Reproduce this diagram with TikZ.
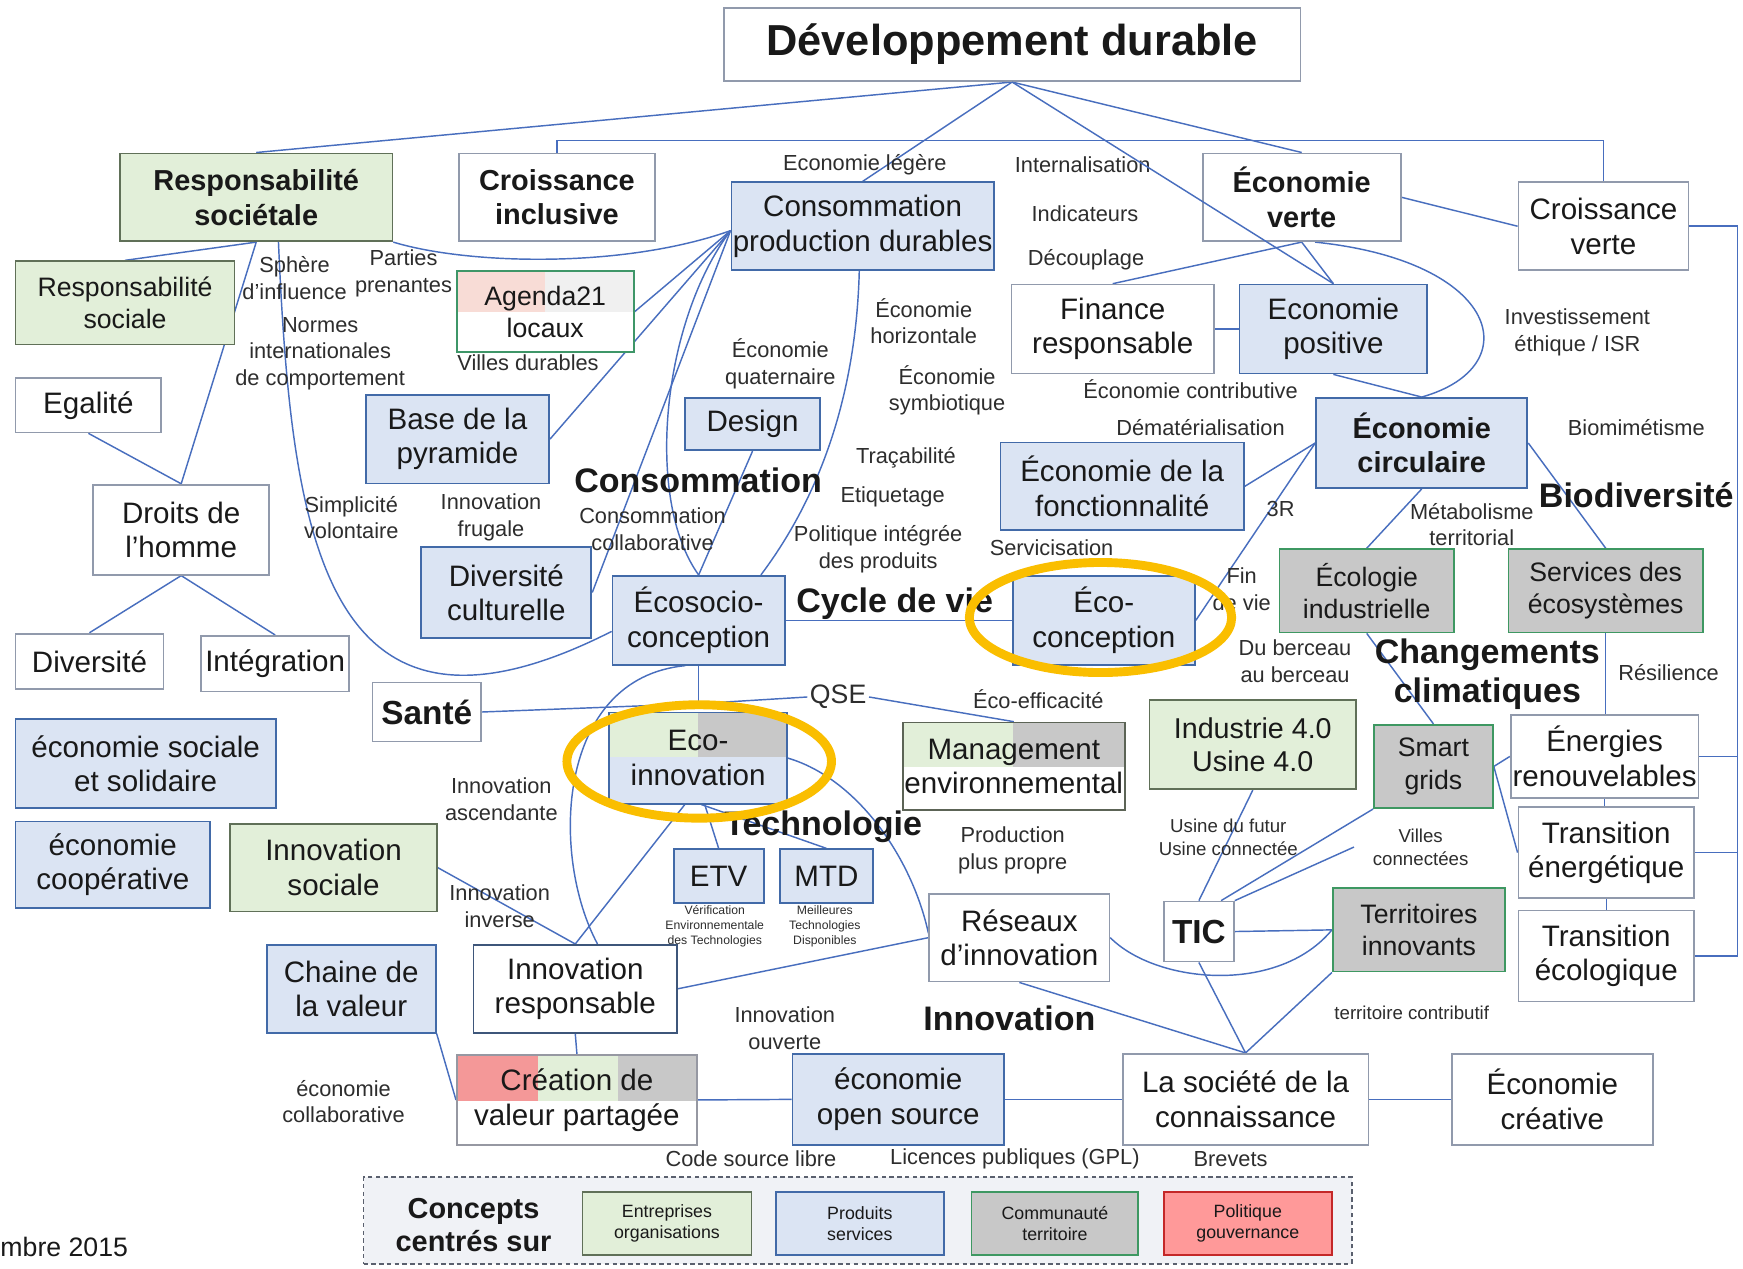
\documentclass[tikz,border=0pt]{standalone}
\usepackage{fontspec}
\setmainfont{Liberation Sans}
\usetikzlibrary{calc}
\pgfdeclarelayer{bg}
\pgfsetlayers{bg,main}

\definecolor{ink}{RGB}{25,25,25}
\definecolor{ink2}{RGB}{45,45,45}
\definecolor{lnk}{RGB}{72,110,190}
\definecolor{bfill}{RGB}{219,228,243}
\definecolor{bline}{RGB}{66,106,168}
\definecolor{gfill}{RGB}{226,239,217}
\definecolor{gline}{RGB}{96,112,88}
\definecolor{cfill}{RGB}{200,200,200}
\definecolor{cline}{RGB}{62,152,98}
\definecolor{wline}{RGB}{145,154,172}
\definecolor{irline}{RGB}{62,86,122}
\definecolor{crline}{RGB}{150,152,162}
\definecolor{mgline}{RGB}{92,100,86}
\definecolor{agline}{RGB}{62,150,104}
\definecolor{pinkbg}{RGB}{248,220,214}
\definecolor{paleg}{RGB}{240,240,240}
\definecolor{rfill}{RGB}{244,152,152}
\definecolor{pfill}{RGB}{255,153,153}
\definecolor{pline}{RGB}{196,40,40}
\definecolor{legbg}{RGB}{240,242,246}
\definecolor{legline}{RGB}{90,96,110}
\definecolor{gold}{RGB}{250,190,0}

% box from its corners: style, name, x1, y1, x2, y2, text
\newcommand\mkbox[7]{%
  \node[#1, minimum width={(#5-#3)*0.5pt}, minimum height={(#6-#4)*0.5pt}]
    (#2) at ({(#3+#5)/2},{(#4+#6)/2}) {#7};}

\tikzset{
  bx/.style={draw, line width=0.8pt, inner sep=0pt, align=center, text=ink,
             font=\fontsize{13.3}{15.5}\selectfont},
  wht/.style={bx, draw=wline, fill=white},
  blu/.style={bx, draw=bline, fill=bfill},
  grn/.style={bx, draw=gline, fill=gfill},
  gry/.style={bx, draw=cline, fill=cfill, font=\fontsize{12}{14.5}\selectfont},
  pol/.style={bx, draw=pline, fill=pfill},
  spl/.style={bx, fill=none},
  sml/.style={font=\fontsize{12}{14.5}\selectfont},
  smd/.style={font=\fontsize{12.9}{15}\selectfont},
  bft/.style={font=\bfseries\fontsize{13}{15.5}\selectfont},
  bfs/.style={font=\bfseries\fontsize{15}{17}\selectfont},
  ttl/.style={font=\bfseries\fontsize{19.5}{22}\selectfont},
  lgt/.style={font=\fontsize{8}{9.5}\selectfont},
  lgd/.style={draw=legline, line width=0.8pt, dash pattern=on 2pt off 1.5pt, fill=legbg},
  lbl/.style={inner sep=1pt, align=center, text=ink2, font=\fontsize{9.8}{12}\selectfont},
  lbs/.style={lbl, font=\fontsize{8.4}{10.3}\selectfont},
  fine/.style={lbl, font=\fontsize{5.5}{6.75}\selectfont},
  sec/.style={inner sep=1pt, align=center, text=ink, font=\bfseries\fontsize{15.3}{17.3}\selectfont},
  con/.style={draw=lnk, line width=0.65pt},
  ring/.style={draw=gold, line width=4pt},
}

\begin{document}
\begin{tikzpicture}[x=0.5pt,y=-0.5pt]
\useasboundingbox (0,0) rectangle (1568,1141);
\begin{pgfonlayer}{bg}
  \fill[white] (0,0) rectangle (1568,1141);
\end{pgfonlayer}

% ---- multi-coloured backgrounds of the mixed boxes
\fill[pinkbg] (411,244) rectangle (490,280.5);
\fill[paleg]  (490,244) rectangle (570,280.5);
\fill[white]  (411,280.5) rectangle (570,317);
\fill[gfill] (548,641) rectangle (628,681);
\fill[cfill] (628,641) rectangle (708,681);
\fill[bfill] (548,681) rectangle (708,723);
\fill[gfill] (812,650) rectangle (911,690);
\fill[cfill] (911,650) rectangle (1012,690);
\fill[white] (812,690) rectangle (1012,729);
\fill[rfill] (411,949) rectangle (484,990);
\fill[gfill] (484,949) rectangle (556,990);
\fill[cfill] (556,949) rectangle (627,990);
\fill[white] (411,990) rectangle (627,1030);

% ---- concept boxes
\mkbox{wht,ttl}{dd}{651}{7}{1170}{73}{\raisebox{-2.5pt}{Développement durable}}
\mkbox{grn,bft}{rsoc}{108}{138}{353}{217}{Responsabilité\\sociétale}
\mkbox{wht,bft}{cinc}{413}{138}{589}{217}{Croissance\\inclusive}
\mkbox{blu}{cpd}{658}{164}{894}{243}{Consommation\\production durables}
\mkbox{wht,bft}{ever}{1082}{138}{1260}{217}{Économie\\verte}
\mkbox{wht}{cver}{1366}{164}{1519}{243}{Croissance\\verte}
\mkbox{grn,sml}{rsocl}{14}{235}{211}{310}{Responsabilité\\sociale}
\mkbox{wht}{egal}{14}{340}{145}{389}{Egalité}
\mkbox{wht}{droits}{84}{436}{242}{517}{Droits de\\l’homme}
\mkbox{wht}{div}{14}{570}{147}{620}{Diversité}
\mkbox{wht}{integ}{181}{572}{314}{622}{Intégration}
\mkbox{blu}{ess}{14}{647}{248}{727}{économie sociale\\et solidaire}
\mkbox{blu}{ecoop}{14}{739}{189}{817}{économie\\coopérative}
\mkbox{grn}{innsoc}{207}{741}{393}{820}{Innovation\\sociale}
\mkbox{blu}{chaine}{240}{850}{392}{929}{Chaine de\\la valeur}
\mkbox{wht,bfs}{sante}{335}{614}{433}{667}{Santé}
\mkbox{spl,draw=agline,sml}{agenda}{411}{244}{570}{317}{Agenda21\\locaux}
\mkbox{blu}{base}{329}{355}{494}{435}{Base de la\\pyramide}
\mkbox{blu}{divc}{379}{492}{532}{574}{Diversité\\culturelle}
\mkbox{blu}{design}{616}{358}{738}{405}{Design}
\mkbox{blu}{ecos}{551}{518}{706}{598}{Écosocio-\\conception}
\mkbox{spl,draw=bline}{ecoi}{548}{641}{708}{723}{Eco-\\innovation}
\mkbox{blu}{etv}{606}{764}{687}{812}{ETV}
\mkbox{blu}{mtd}{702}{764}{785}{812}{MTD}
\mkbox{wht,draw=irline}{innr}{426}{850}{609}{929}{Innovation\\responsable}
\mkbox{spl,draw=crline}{cre}{411}{949}{627}{1030}{Création de\\valeur partagée}
\mkbox{blu}{oss}{713}{948}{903}{1030}{économie\\open source}
\mkbox{spl,draw=mgline}{mgmt}{812}{650}{1012}{729}{Management\\environnemental}
\mkbox{wht}{res}{836}{804}{998}{883}{Réseaux\\d’innovation}
\mkbox{wht}{fin}{910}{256}{1092}{336}{Finance\\responsable}
\mkbox{blu}{epos}{1115}{256}{1284}{336}{Economie\\positive}
\mkbox{blu,bft}{ecirc}{1184}{358}{1374}{439}{Économie\\circulaire}
\mkbox{blu}{efonc}{900}{398}{1119}{477}{Économie de la\\fonctionnalité}
\mkbox{blu}{ecoc}{911}{518}{1075}{598}{Éco-\\conception}
\mkbox{gry}{ecol}{1151}{494}{1308}{569}{Écologie\\industrielle}
\mkbox{gry}{serv}{1357}{494}{1532}{569}{Services des\\écosystèmes}
\mkbox{grn,smd}{ind}{1034}{630}{1220}{710}{Industrie 4.0\\Usine 4.0}
\mkbox{gry}{sg}{1236}{652}{1343}{727}{Smart\\grids}
\mkbox{wht}{enr}{1359}{643}{1528}{718}{Énergies\\renouvelables}
\mkbox{wht}{tr1}{1366}{726}{1524}{808}{Transition\\énergétique}
\mkbox{wht}{tr2}{1366}{819}{1524}{901}{Transition\\écologique}
\mkbox{wht,bfs}{tic}{1047}{811}{1110}{865}{TIC}
\mkbox{gry}{terr}{1199}{799}{1354}{874}{Territoires\\innovants}
\mkbox{wht}{soc}{1010}{948}{1231}{1030}{La société de la\\connaissance}
\mkbox{wht}{ecre}{1306}{948}{1487}{1030}{Économie\\créative}

% ---- legend
\mkbox{lgd}{leg}{327}{1059}{1216}{1137}{}
\node[sec, font=\bfseries\fontsize{13}{15}\selectfont] (legt) at (426,1102) {Concepts\\centrés sur};
\mkbox{grn,lgt}{lg1}{524}{1072}{676}{1129}{Entreprises\\organisations}
\mkbox{blu,lgt}{lg2}{698}{1072}{849}{1129}{Produits\\services}
\mkbox{gry,lgt}{lg3}{874}{1072}{1024}{1129}{Communauté\\territoire}
\mkbox{pol,lgt}{lg4}{1047}{1072}{1198}{1129}{Politique\\gouvernance}
\node[anchor=west, inner sep=0pt, text=ink, font=\fontsize{12}{14}\selectfont] (date) at (0,1121.5) {mbre 2015};

% ---- labels along the links
\node[lbl] (t1) at (265,250) {Sphère\\d’influence};
\node[lbl] (t2) at (363,246) {Parties\\prenantes};
\node[lbl] (t3) at (288,318) {Normes\\internationales\\de comportement};
\node[lbl] (t4) at (475,326.5) {Villes durables};
\node[lbl] (t5) at (778,148.5) {Economie légère};
\node[lbl] (t6) at (974,148.5) {Internalisation};
\node[lbl] (t7) at (976,192) {Indicateurs};
\node[lbl] (t8) at (977,234) {Découplage};
\node[lbl] (t9) at (831,289) {Économie\\horizontale};
\node[lbl] (t10) at (702,327) {Économie\\quaternaire};
\node[lbl] (t11) at (852,351) {Économie\\symbiotique};
\node[lbl] (t12) at (1071,350) {Économie contributive};
\node[lbl] (t13) at (1080,385) {Dématérialisation};
\node[lbl] (t14) at (1419,299) {Investissement\\éthique / ISR};
\node[lbl] (t15) at (1472,385) {Biomimétisme};
\node[lbl] (t16) at (815,412) {Traçabilité};
\node[lbl] (t17) at (803,447) {Etiquetage};
\node[lbl] (t18) at (790,494) {Politique intégrée\\des produits};
\node[lbl] (t19) at (946,493) {Servicisation};
\node[lbl] (t20) at (1152,458) {3R};
\node[lbl] (t21) at (1324,472) {Métabolisme\\territorial};
\node[lbl] (t22) at (1117,530) {Fin\\de vie};
\node[lbl] (t23) at (1165,595) {Du berceau\\au berceau};
\node[lbl] (t24) at (1501,605) {Résilience};
\node[lbl] (t25) at (316,465.5) {Simplicité\\volontaire};
\node[lbl] (t26) at (441.7,465.5) {Innovation\\frugale};
\node[lbl] (t27) at (587,476) {Consommation\\collaborative};
\node[lbl, font=\fontsize{12}{14}\selectfont] (qse) at (754,627) {QSE};
\node[lbl] (t28) at (934,629) {Éco-efficacité};
\node[lbl] (t29) at (451,719) {Innovation\\ascendante};
\node[lbl] (t30) at (911,765) {Production\\plus propre};
\node[lbs] (t31) at (1105,753.5) {Usine du futur\\Usine connectée};
\node[lbs] (t32) at (1278,762) {Villes\\connectées};
\node[lbl] (t33) at (449.5,815) {Innovation\\inverse};
\node[lbl] (t34) at (706,925) {Innovation\\ouverte};
\node[lbs] (t35) at (1270,911) {territoire contributif};
\node[lbl] (t36) at (309,991) {économie\\collaborative};
\node[lbl] (t37) at (675.6,1042.5) {Code source libre};
\node[lbl] (t38) at (913,1042.5) {Licences publiques (GPL)};
\node[lbl] (t39) at (1107,1042.5) {Brevets};
\node[fine] (t40) at (643,833) {Vérification\\Environnementale\\des Technologies};
\node[fine] (t41) at (742,833) {Meilleures\\Technologies\\Disponibles};

% ---- theme headings
\node[sec] (s1) at (628,432.4) {Consommation};
\node[sec, anchor=west] (s2) at (714,542.7) {Cycle de vie};
\node[sec] (s3) at (740.5,744) {Technologie};
\node[sec] (s4) at (908,916) {Innovation};
\node[sec] (s5) at (1338,606.3) {Changements\\climatiques};
\node[sec] (s6) at (1472,445.5) {Biodiversité};

% ---- links
\coordinate (rail) at (1563,0);
\coordinate (qy) at (0,633);
\coordinate (qj) at (ecos.south |- qy);
\coordinate (cpdL) at ([yshift=-2pt]cpd.west);
\coordinate (vc) at (1218,762);
\begin{pgfonlayer}{bg}
\draw[con] (dd.south) -- (rsoc.north);
\draw[con] (dd.south) -- (cpd.north);
\draw[con] (dd.south) -- (ever.north);
\draw[con] (cinc.north) -- ++(0,-11) -| (cver.north);
\draw[con] (ever.east) -- (cver.west);
\draw[con] (cver.east) -- (cver.east -| rail) |- (tr2.east);
\draw[con] (enr.east) -- (enr.east -| rail);
\draw[con] (tr1.east) -- (tr1.east -| rail);
\draw[con] (rsoc.south) -- (rsocl.north);
\draw[con] (rsoc.south) -- (droits.north);
\draw[con] (egal.south) -- (droits.north);
\draw[con] (droits.south) -- (div.north);
\draw[con] (droits.south) -- (integ.north);
\draw[con] ([xshift=10pt]rsoc.south) .. controls (262,480) and (290,700) .. ([yshift=-5pt]ecos.west);
\draw[con] (rsoc.south east) .. controls (420,238) and (560,242) .. (cpdL);
\draw[con] (agenda.east) -- (cpdL);
\draw[con] (base.east) -- (cpdL);
\draw[con] (divc.east) -- (cpdL);
\draw[con] (cpdL) .. controls (595,290) and (580,450) .. (ecos.north);
\draw[con] ([xshift=-1.5pt]cpd.south) .. controls (770,360) and (735,450) .. ([xshift=28pt]ecos.north);
\draw[con] (design.south) -- (ecos.north);
\draw[con] (ecos.south) -- (qj);
\draw[con] (sante.east) -- (qj) -- (qse.west);
\draw[con] (qse.east) -- (mgmt.north);
\draw[con] ([xshift=-6pt]ecos.south) .. controls (500,610) and (495,770) .. ([xshift=10pt]innr.north);
\draw[con] ([xshift=-6pt]ecoi.south) -- (innr.north);
\draw[con] (innsoc.east) -- (innr.north);
\draw[con] ([xshift=3pt]ecoi.south) -- (etv.north);
\draw[con] ([xshift=1.5pt]ecoi.south) -- (mtd.north);
\draw[con] (ecoi.east) .. controls (770,700) and (820,770) .. ([yshift=2pt]res.west);
\draw[con] (innr.east) -- (res.west);
\draw[con] (innr.south) -- (cre.north);
\draw[con] (chaine.south east) -- (cre.west);
\draw[con] (cre.east) -- (oss.west);
\draw[con] (oss.east) -- (soc.west);
\draw[con] (soc.east) -- (ecre.west);
\draw[con] (res.south) -- (soc.north);
\draw[con] (res.east) .. controls (1040,885) and (1150,895) .. (terr.west);
\draw[con] (tic.east) -- (terr.west);
\draw[con] (tic.south) -- (soc.north);
\draw[con] (terr.south west) -- (soc.north);
\draw[con] (ind.south) -- (tic.north);
\draw[con] (sg.south west) -- ([xshift=10pt]tic.north);
\draw[con] (tic.north east) -- (vc);
\draw[con] (sg.east) -- (enr.west);
\draw[con] (sg.east) -- (tr1.west);
\draw[con] (enr.south) -- (enr.south |- tr1.north);
\draw[con] (tr1.south) -- (tr2.north);
\draw[con] (serv.south) -- (serv.south |- enr.north);
\draw[con] (ecirc.east) -- (serv.north);
\draw[con] (ecirc.south) -- (ecol.north);
\draw[con] (ecol.south) -- (sg.north);
\draw[con] (ecirc.west) -- (efonc.east);
\draw[con] (ecirc.west) -- (ecoc.east);
\draw[con] (epos.south) -- (ecirc.north);
\draw[con] ([xshift=6pt]ever.south) .. controls (1350,235) and (1375,330) .. (ecirc.north);
\draw[con] (ever.south) -- (epos.north);
\draw[con] (ever.south) -- (fin.north);
\draw[con] (fin.east) -- (epos.west);
\draw[con] (ecos.east) -- (ecoc.west);
\end{pgfonlayer}
% this link runs across the "Économie verte" box
\draw[con] (dd.south) -- (epos.north);

% ---- highlight rings
\draw[ring] (990,555.5) ellipse [x radius=59pt, y radius=24.75pt];
\draw[ring] (629,685) ellipse [x radius=59.5pt, y radius=25.5pt];
\end{tikzpicture}
\end{document}
